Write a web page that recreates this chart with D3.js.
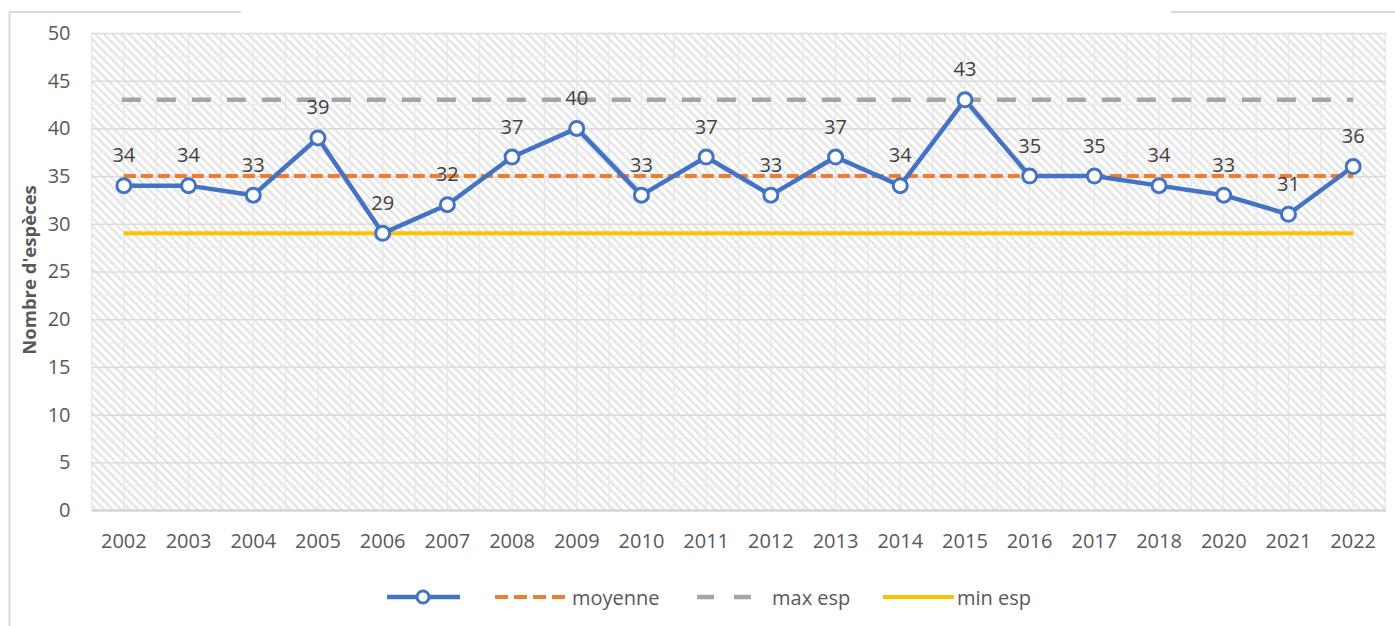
<!DOCTYPE html>
<html>
<head>
<meta charset="utf-8">
<script src="https://cdn.jsdelivr.net/npm/d3@7/dist/d3.min.js"></script>
<style>
  html, body { margin: 0; padding: 0; background: #ffffff; }
  svg { display: block; font-family: "Open Sans", "Noto Sans", sans-serif; }
</style>
</head>
<body>
<svg id="chart" width="1395" height="626"></svg>
<script>
// ---- data ----
const years = ["2002","2003","2004","2005","2006","2007","2008","2009","2010","2011",
               "2012","2013","2014","2015","2016","2017","2018","2020","2021","2022"];
const especes = [34,34,33,39,29,32,37,40,33,37,33,37,34,43,35,35,34,33,31,36];
const moyenne = 35;
const maxEsp = 43;
const minEsp = 29;
const yTicks = [0,5,10,15,20,25,30,35,40,45,50];
const yTitle = "Nombre d'espèces";
const legendLabels = ["", "moyenne", "max esp", "min esp"];

// ---- layout ----
const svg = d3.select("#chart");
const W = 1395, H = 626;
const plot = { left: 91.5, right: 1385.5, top: 33, bottom: 510 };

const x = d3.scaleBand().domain(years).range([plot.left, plot.right]).padding(0);
const y = d3.scaleLinear().domain([0, 50]).range([plot.bottom, plot.top]);
const cx = d => x(d) + x.bandwidth() / 2;

// frame fragments
const frame = svg.append("g").attr("stroke", "#d9d9d9").attr("stroke-width", 2).attr("fill", "none");
frame.append("line").attr("x1", 9.5).attr("x2", 9.5).attr("y1", 12).attr("y2", H);
frame.append("line").attr("x1", 9).attr("x2", 241).attr("y1", 12).attr("y2", 12);
frame.append("line").attr("x1", 1171).attr("x2", W).attr("y1", 12).attr("y2", 12);

// hatch pattern (lines running top-left to bottom-right)
const defs = svg.append("defs");
const pat = defs.append("pattern").attr("id", "hatch")
  .attr("patternUnits", "userSpaceOnUse").attr("width", 6).attr("height", 6)
  .attr("patternTransform", "rotate(-45)");
pat.append("rect").attr("width", 6).attr("height", 6).attr("fill", "#ffffff");
pat.append("rect").attr("x", 0).attr("y", 0).attr("width", 2.6).attr("height", 6).attr("fill", "#e6e6e6");

svg.append("rect")
  .attr("x", plot.left).attr("y", plot.top)
  .attr("width", plot.right - plot.left).attr("height", plot.bottom - plot.top)
  .attr("fill", "url(#hatch)");

// minor gridlines
const grid = svg.append("g");
const halfSteps = d3.range(2.5, 50, 5);
grid.selectAll("line.hminor").data(halfSteps).join("line")
  .attr("x1", plot.left).attr("x2", plot.right)
  .attr("y1", d => y(d)).attr("y2", d => y(d))
  .attr("stroke", "#ededed").attr("stroke-width", 1);
const vPos = [];
years.forEach(yr => { vPos.push(x(yr)); vPos.push(cx(yr)); });
vPos.push(plot.right);
grid.selectAll("line.v").data(vPos).join("line")
  .attr("x1", d => d).attr("x2", d => d)
  .attr("y1", plot.top).attr("y2", plot.bottom)
  .attr("stroke", "#e6e6e6").attr("stroke-width", 1.2);

// y axis (major gridlines + labels)
const yAxis = d3.axisLeft(y).tickValues(yTicks).tickSize(-(plot.right - plot.left)).tickPadding(21);
const gy = svg.append("g").attr("transform", `translate(${plot.left},0)`).call(yAxis);
gy.select(".domain").remove();
gy.selectAll(".tick line").attr("stroke", "#dcdcdc").attr("stroke-width", 1.6);
gy.selectAll(".tick text").attr("fill", "#595959").attr("font-size", 20)
  .attr("font-family", '"Open Sans", sans-serif');

// x axis
const xAxis = d3.axisBottom(x).tickSize(0).tickPadding(24);
const gx = svg.append("g").attr("transform", `translate(0,${plot.bottom})`).call(xAxis);
gx.select(".domain").attr("stroke", "#d0d0d0").attr("stroke-width", 2);
gx.selectAll(".tick text").attr("fill", "#595959").attr("font-size", 20)
  .attr("font-family", '"Open Sans", sans-serif');

// y title
svg.append("text")
  .attr("transform", `translate(36,270) rotate(-90)`)
  .attr("text-anchor", "middle")
  .attr("font-size", 18.5).attr("font-weight", "bold").attr("fill", "#595959")
  .text(yTitle);

// reference lines
const x0 = cx(years[0]), x1 = cx(years[years.length - 1]);
svg.append("line").attr("x1", x0).attr("x2", x1)
  .attr("y1", y(minEsp)).attr("y2", y(minEsp))
  .attr("stroke", "#FFC000").attr("stroke-width", 4);
svg.append("line").attr("x1", x0 - 2).attr("x2", x1)
  .attr("y1", y(maxEsp)).attr("y2", y(maxEsp))
  .attr("stroke", "#A5A5A5").attr("stroke-width", 4.5).attr("stroke-dasharray", "19,16");
svg.append("line").attr("x1", x0).attr("x2", x1)
  .attr("y1", y(moyenne)).attr("y2", y(moyenne))
  .attr("stroke", "#ED7D31").attr("stroke-width", 4).attr("stroke-dasharray", "12,5");

// main series
const line = d3.line().x((d, i) => cx(years[i])).y(d => y(d));
svg.append("path").datum(especes)
  .attr("d", line).attr("fill", "none")
  .attr("stroke", "#4472C4").attr("stroke-width", 4.5).attr("stroke-linejoin", "round");
svg.selectAll("circle.pt").data(especes).join("circle")
  .attr("cx", (d, i) => cx(years[i])).attr("cy", d => y(d)).attr("r", 7)
  .attr("fill", "#ffffff").attr("stroke", "#4472C4").attr("stroke-width", 3);

// data labels
svg.selectAll("text.lbl").data(especes).join("text")
  .attr("x", (d, i) => cx(years[i])).attr("y", d => y(d) - 31)
  .attr("text-anchor", "middle").attr("dominant-baseline", "central")
  .attr("font-size", 20).attr("fill", "#404040")
  .text(d => d);

// legend
const ly = 597;
const lg = svg.append("g");
lg.append("line").attr("x1", 387).attr("x2", 460).attr("y1", ly).attr("y2", ly)
  .attr("stroke", "#4472C4").attr("stroke-width", 4.5);
lg.append("circle").attr("cx", 423).attr("cy", ly).attr("r", 6)
  .attr("fill", "#fff").attr("stroke", "#4472C4").attr("stroke-width", 3);
lg.append("line").attr("x1", 495).attr("x2", 568).attr("y1", ly).attr("y2", ly)
  .attr("stroke", "#ED7D31").attr("stroke-width", 4).attr("stroke-dasharray", "13,6");
lg.append("text").attr("x", 572).attr("y", ly).attr("dominant-baseline", "central")
  .attr("font-size", 20).attr("fill", "#595959").text(legendLabels[1]);
lg.append("line").attr("x1", 697).attr("x2", 752).attr("y1", ly).attr("y2", ly)
  .attr("stroke", "#A5A5A5").attr("stroke-width", 4.5).attr("stroke-dasharray", "17,20");
lg.append("text").attr("x", 772).attr("y", ly).attr("dominant-baseline", "central")
  .attr("font-size", 20).attr("fill", "#595959").text(legendLabels[2]);
lg.append("line").attr("x1", 883).attr("x2", 954).attr("y1", ly).attr("y2", ly)
  .attr("stroke", "#FFC000").attr("stroke-width", 4);
lg.append("text").attr("x", 957).attr("y", ly).attr("dominant-baseline", "central")
  .attr("font-size", 20).attr("fill", "#595959").text(legendLabels[3]);
</script>
</body>
</html>
